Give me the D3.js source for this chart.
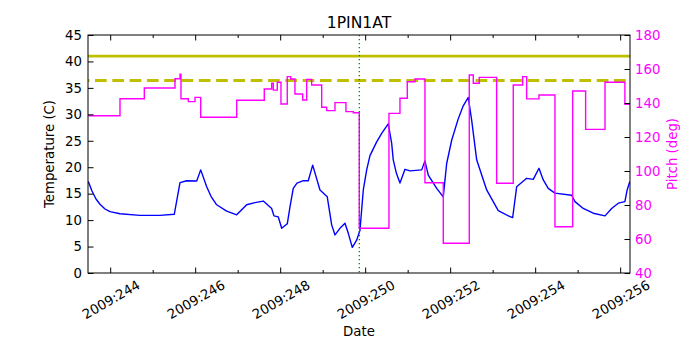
<!DOCTYPE html>
<html>
<head>
<meta charset="utf-8">
<script src="https://cdn.jsdelivr.net/npm/d3@7"></script>
<style>
  body { margin: 0; background: #fff; }
  svg { font-family: "DejaVu Sans", sans-serif; }
</style>
</head>
<body>
<div id="mount"></div>
<script>
// temperature samples (day of year 2009, deg C)
var tempTimes = [243.473, 243.56, 243.654, 243.748, 243.866, 243.984, 244.219, 244.689, 245.16, 245.496,
  245.631, 245.788, 246.024, 246.118, 246.259, 246.36, 246.494, 246.729, 246.965, 247.2,
  247.395, 247.591, 247.788, 247.842, 247.944, 248.024, 248.155, 248.219, 248.296, 248.384,
  248.532, 248.649, 248.753, 248.925, 249.096, 249.2, 249.278, 249.395, 249.513, 249.591,
  249.685, 249.788, 249.866, 249.944, 250.024, 250.101, 250.259, 250.384, 250.532, 250.612,
  250.649, 250.725, 250.807, 250.925, 251.042, 251.318, 251.395, 251.473, 251.671, 251.826,
  251.906, 252.024, 252.172, 252.289, 252.414, 252.494, 252.612, 252.847, 253.12, 253.395,
  253.459, 253.553, 253.788, 253.944, 254.078, 254.179, 254.296, 254.454, 254.847, 254.925,
  255.12, 255.355, 255.632, 255.788, 255.944, 256.1, 256.153, 256.216];
var tempValues = [17.3, 15.5, 14.0, 13.0, 12.1, 11.6, 11.2, 10.9, 10.9, 11.1,
  17.1, 17.45, 17.4, 19.5, 16.3, 14.5, 12.9, 11.7, 11.0, 12.9,
  13.3, 13.6, 12.2, 10.8, 10.6, 8.45, 9.3, 12.5, 16.0, 17.0,
  17.45, 17.45, 20.4, 15.7, 14.4, 9.1, 7.2, 8.45, 9.4, 7.5,
  4.85, 6.2, 8.1, 15.7, 19.5, 22.2, 24.8, 26.5, 28.2, 24.5,
  21.4, 18.8, 17.0, 19.6, 19.3, 19.5, 21.2, 18.5, 16.0, 14.4,
  20.7, 25.1, 29.0, 31.5, 33.2, 28.9, 21.4, 15.7, 11.8, 10.65,
  10.5, 16.3, 17.9, 17.7, 19.8, 17.6, 16.0, 15.1, 14.7, 13.5,
  12.2, 11.3, 10.8, 12.2, 13.2, 13.5, 15.7, 17.3];

// pitch samples (deg), held until the next sample
var pitchTimes = [243.473, 244.219, 244.791, 245.513, 245.631, 245.654, 245.826, 245.984, 246.118, 246.965,
  247.614, 247.788, 247.826, 247.92, 248.007, 248.155, 248.235, 248.336, 248.518, 248.612,
  248.729, 248.965, 249.082, 249.278, 249.536, 249.708, 249.849, 250.548, 250.807, 250.979,
  251.16, 251.395, 251.826, 252.438, 252.532, 252.673, 253.082, 253.473, 253.694, 253.788,
  254.078, 254.454, 254.871, 255.176, 255.632, 256.1, 256.216];
var pitchValues = [132.5, 142.5, 148.8, 154.3, 156.9, 142.5, 140.8, 143.3, 131.6, 141.6,
  148.2, 151.6, 147.6, 152.2, 139.4, 155.5, 154.1, 145.3, 141.8, 153.9,
  150.6, 137.5, 135.5, 140.2, 134.9, 134.3, 66.3, 133.9, 142.8, 152.5,
  154.1, 93.1, 57.5, 156.5, 151.6, 155.1, 92.8, 150.6, 155.5, 142.4,
  144.7, 67.2, 147.1, 124.5, 152.2, 139.2, 139.2];

// limit lines (deg C) and the "now" marker (day of year)
var planningLimit = 41.0;
var cautionLimit = 36.4;
var nowDay = 249.85;

// axis ticks
var majorDays = [244, 246, 248, 250, 252, 254, 256];
var minorDays = [245, 247, 249, 251, 253, 255];
var tempTicks = [0, 5, 10, 15, 20, 25, 30, 35, 40, 45];
var pitchTicks = [40, 60, 80, 100, 120, 140, 160, 180];
var dayRange = [243.466, 256.22];

var margin = { top: 35, right: 70, bottom: 77, left: 88 };
var width = 700 - margin.left - margin.right,
    height = 350 - margin.top - margin.bottom;
var fs = 13.3;

var svg = d3.select('#mount').append('svg')
    .attr('width', 700)
    .attr('height', 350);

var graph = svg.append('g')
    .attr('transform', `translate(${margin.left},${margin.top})`);

var x = d3.scaleLinear().domain(dayRange).range([0, width]);
var yT = d3.scaleLinear().domain([0, 45]).range([height, 0]);
var yP = d3.scaleLinear().domain([40, 180]).range([height, 0]);

graph.append('clipPath').attr('id', 'plot-clip')
  .append('rect').attr('width', width).attr('height', height);

var plot = graph.append('g').attr('clip-path', 'url(#plot-clip)');

// temperature line
var temp = tempTimes.map((t, i) => ({ t: t, v: tempValues[i] }));
plot.append('path')
    .datum(temp)
    .attr('fill', 'none')
    .attr('stroke', '#0000ff')
    .attr('stroke-width', 1.4)
    .attr('stroke-linejoin', 'round')
    .attr('d', d3.line().x(d => x(d.t)).y(d => yT(d.v)));

// limits
plot.append('line')
    .attr('x1', 0).attr('x2', width)
    .attr('y1', yT(planningLimit)).attr('y2', yT(planningLimit))
    .attr('stroke', '#bfbf00').attr('stroke-width', 2.8);
plot.append('line')
    .attr('x1', 0).attr('x2', width)
    .attr('y1', yT(cautionLimit)).attr('y2', yT(cautionLimit))
    .attr('stroke', '#bfbf00').attr('stroke-width', 2.8)
    .attr('stroke-dasharray', '11.7,5.6')
    .attr('stroke-dashoffset', 10.3);

// pitch step line
var pitch = pitchTimes.map((t, i) => ({ t: t, v: pitchValues[i] }));
plot.append('path')
    .datum(pitch)
    .attr('fill', 'none')
    .attr('stroke', '#ff00ff')
    .attr('stroke-width', 1.4)
    .attr('d', d3.line().curve(d3.curveStepAfter).x(d => x(d.t)).y(d => yP(d.v)));

// now marker
plot.append('line')
    .attr('x1', x(nowDay)).attr('x2', x(nowDay))
    .attr('y1', 0).attr('y2', height)
    .attr('stroke', '#007000').attr('stroke-width', 1.2)
    .attr('stroke-dasharray', '1.2,2.8');

// ticks, all pointing inward
function tickLines(parent, vals, len, y0, dir) {
  parent.selectAll(null).data(vals).enter().append('line')
      .attr('x1', d => x(d)).attr('x2', d => x(d))
      .attr('y1', y0).attr('y2', y0 + dir * len)
      .attr('stroke', '#000').attr('stroke-width', 1);
}
tickLines(graph, majorDays, 5.5, height, -1);
tickLines(graph, minorDays, 3, height, -1);
tickLines(graph, majorDays, 5.5, 0, 1);
tickLines(graph, minorDays, 3, 0, 1);

var xAxis = d3.axisBottom(x).tickValues(majorDays).tickSize(0)
    .tickFormat(d => '2009:' + d);
var gx = graph.append('g')
    .attr('transform', `translate(0,${height})`)
    .call(xAxis);
gx.select('.domain').remove();
gx.selectAll('text')
    .attr('font-size', fs)
    .attr('font-family', '"DejaVu Sans"')
    .attr('fill', '#000')
    .attr('text-anchor', 'middle')
    .attr('dominant-baseline', 'central')
    .attr('y', 0).attr('dy', null)
    .attr('transform', function() {
      var w = this.getComputedTextLength();
      var cy = 5 + (w * 0.5 + fs * 0.866) / 2;
      return `translate(0,${cy}) rotate(-30)`;
    });

var yAxisL = d3.axisLeft(yT).tickValues(tempTicks).tickSizeInner(-5.5).tickSizeOuter(0).tickPadding(6);
var gyl = graph.append('g').call(yAxisL);
gyl.select('.domain').remove();
gyl.selectAll('text').attr('font-size', fs).attr('font-family', '"DejaVu Sans"').attr('x', -6);

var yAxisR = d3.axisRight(yP).tickValues(pitchTicks).tickSizeInner(-5.5).tickSizeOuter(0);
var gyr = graph.append('g')
    .attr('transform', `translate(${width},0)`)
    .call(yAxisR);
gyr.select('.domain').remove();
gyr.selectAll('text').attr('font-size', fs).attr('font-family', '"DejaVu Sans"')
    .attr('x', 5).attr('fill', '#ff00ff');

// frame
graph.append('rect')
    .attr('width', width).attr('height', height)
    .attr('fill', 'none').attr('stroke', '#000').attr('stroke-width', 1);

// labels
svg.append('text')
    .attr('x', margin.left + width / 2).attr('y', 27.7)
    .attr('text-anchor', 'middle').attr('font-size', 15.6)
    .text('1PIN1AT');
svg.append('text')
    .attr('x', margin.left + width / 2).attr('y', 336)
    .attr('text-anchor', 'middle').attr('font-size', fs)
    .text('Date');
svg.append('text')
    .attr('transform', `translate(54,${margin.top + height / 2}) rotate(-90)`)
    .attr('text-anchor', 'middle').attr('font-size', fs)
    .text('Temperature (C)');
svg.append('text')
    .attr('transform', `translate(677,${margin.top + height / 2}) rotate(-90)`)
    .attr('text-anchor', 'middle').attr('font-size', fs)
    .attr('fill', '#ff00ff')
    .text('Pitch (deg)');
</script>
</body>
</html>
